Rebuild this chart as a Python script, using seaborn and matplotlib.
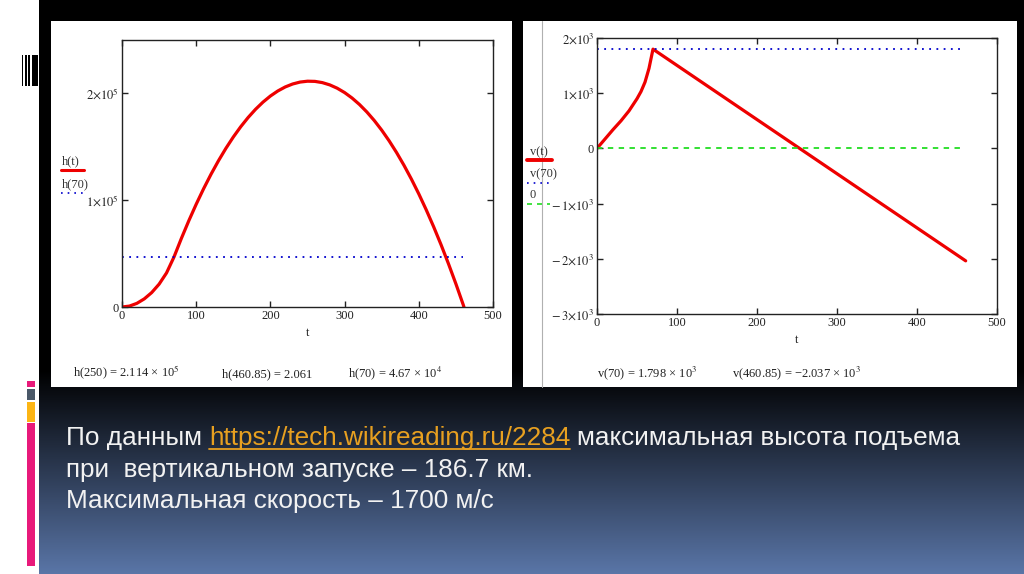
import matplotlib
matplotlib.use("Agg")
import matplotlib.pyplot as plt
import seaborn as sns
import numpy as np
from matplotlib.patches import Rectangle
from matplotlib.ticker import FixedLocator, FixedFormatter


sns.set_style("ticks")
plt.rcParams['font.family'] = ['Liberation Serif', 'DejaVu Sans']
plt.rcParams['mathtext.fontset'] = 'stix'

# --- data --------------------------------------------------------------------
t_h = [0, 10, 20, 30, 40, 50, 60, 70, 80, 90, 100, 110, 120, 130, 140, 150,
       160, 170, 180, 190, 200, 210, 220, 230, 240, 250, 260, 270, 280, 290,
       300, 310, 320, 330, 340, 350, 360, 370, 380, 390, 400, 410, 420, 430,
       440, 450, 460, 460.85]
h_vals = [0, 850, 3400, 7600, 13500, 21400, 31900, 46700, 64190, 80700,
          96230, 110770, 124340, 136920, 148530, 159150, 168790, 177450,
          185130, 191830, 197550, 202280, 206040, 208810, 210610, 211420,
          211250, 210100, 207970, 204860, 200770, 195690, 189640, 182600,
          174590, 165590, 155610, 144650, 132710, 119790, 105890, 91000,
          75140, 58290, 40470, 21660, 1850, 2]

t_v = [0, 10, 20, 30, 40, 50, 55, 60, 65, 70, 460.85]
v_vals = [0, 170, 340, 500, 680, 900, 1030, 1200, 1450, 1798, -2037]

ref_t = [0, 460]
h70 = 46700
v70 = 1798

h_ticks = [0, 100000, 200000]
h_tick_labels = ['0', r'$1{\times}10^{5}$', r'$2{\times}10^{5}$']
v_ticks = [-3000, -2000, -1000, 0, 1000, 2000]
v_tick_labels = [r'$-\,3{\times}10^{3}$', r'$-\,2{\times}10^{3}$',
                 r'$-\,1{\times}10^{3}$', '0',
                 r'$1{\times}10^{3}$', r'$2{\times}10^{3}$']
t_ticks = [0, 100, 200, 300, 400, 500]

W, H = 1024, 574
fig = plt.figure(figsize=(W / 100, H / 100), dpi=100)
fig.patch.set_facecolor('black')

# --- slide background (pixel coordinates) -----------------------------------
bg = fig.add_axes([0, 0, 1, 1])
bg.set_xlim(0, W)
bg.set_ylim(H, 0)
bg.axis('off')
rows = np.zeros((H, 1, 3))
top_c = np.array([0.0, 0.0, 0.0])
bot_c = np.array([90, 118, 168]) / 255
for r in range(H):
    f = min(max((r - 370) / (H - 370), 0), 1)
    rows[r, 0] = top_c + (bot_c - top_c) * f
bg.imshow(rows, extent=[0, W, H, 0], aspect='auto', zorder=0)

bg.add_patch(Rectangle((0, 0), 39, H, fc='white', lw=0, zorder=1))
for x0, x1 in [(22.3, 23.3), (25, 26.6), (28, 29.8), (31.8, 37.8)]:
    bg.add_patch(Rectangle((x0, 55), x1 - x0, 31, fc='black', lw=0, zorder=2))
bg.add_patch(Rectangle((27, 381), 8, 6, fc='#e8197a', lw=0, zorder=2))
bg.add_patch(Rectangle((27, 389), 8, 11, fc='#4a5868', lw=0, zorder=2))
bg.add_patch(Rectangle((27, 402), 8, 20, fc='#fcb514', lw=0, zorder=2))
bg.add_patch(Rectangle((27, 423), 8, 143, fc='#e8197a', lw=0, zorder=2))

# white chart panels
bg.add_patch(Rectangle((51, 21), 461, 366, fc='white', lw=0, zorder=1))
bg.add_patch(Rectangle((523, 21), 494, 366, fc='white', lw=0, zorder=1))
bg.plot([542, 542], [21, 387], color='#b0b0b0', lw=0.8, zorder=2)

tick_fs = 9


def style_axes(ax):
    ax.set_facecolor('white')
    for s in ax.spines.values():
        s.set_color('#222222')
        s.set_linewidth(1.0)
        s.set_visible(True)
    ax.tick_params(direction='in', length=4, width=1, color='#222222',
                   top=True, right=True, labelsize=tick_fs, pad=2,
                   labelcolor='#222222')
    ax.set_xlim(0, 500)
    ax.xaxis.set_major_locator(FixedLocator(t_ticks))
    ax.set_xticklabels([str(v) for v in t_ticks])
    ax.set_xlabel('t', fontsize=tick_fs, labelpad=4, color='#222222')
    ax.set_ylabel('')
    ax.grid(False)


# --- left: height --------------------------------------------------------------
ax1 = fig.add_axes([122 / W, 1 - 307 / H, 371 / W, 267 / H])
sns.lineplot(x=t_h, y=h_vals, ax=ax1, color='#ee0000', lw=2.3)
sns.lineplot(x=ref_t, y=[h70, h70], ax=ax1, color='#0000cc', lw=1.3,
             linestyle=(0, (1, 3)))
style_axes(ax1)
ax1.set_ylim(0, 250000)
ax1.yaxis.set_major_locator(FixedLocator(h_ticks))
ax1.yaxis.set_major_formatter(FixedFormatter(h_tick_labels))

# --- right: velocity -------------------------------------------------------------
ax2 = fig.add_axes([597 / W, 1 - 314 / H, 400 / W, 276 / H])
sns.lineplot(x=t_v, y=v_vals, ax=ax2, color='#ee0000', lw=2.3)
sns.lineplot(x=ref_t, y=[v70, v70], ax=ax2, color='#0000cc', lw=1.3,
             linestyle=(0, (1, 3)))
sns.lineplot(x=ref_t, y=[0, 0], ax=ax2, color='#22dd22', lw=1.3,
             linestyle=(0, (3, 3)))
style_axes(ax2)
ax2.set_ylim(-3000, 2000)
ax2.yaxis.set_major_locator(FixedLocator(v_ticks))
ax2.yaxis.set_major_formatter(FixedFormatter(v_tick_labels))

# --- Mathcad style legends and evaluated values ----------------------------------
lfs = 9
bg.text(62, 164, 'h(t)', fontsize=lfs, color='#333333', zorder=3)
bg.plot([61, 84], [170, 170], color='#ee0000', lw=2.2, zorder=3)
bg.text(62, 187, 'h(70)', fontsize=lfs, color='#333333', zorder=3)
bg.plot([61, 83], [193, 193], color='#0000cc', lw=1.2, ls=(0, (1, 3)), zorder=3)

bg.text(530, 155, 'v(t)', fontsize=lfs, color='#333333', zorder=3)
bg.plot([527, 552], [160, 160], color='#ee0000', lw=2.8, zorder=3)
bg.text(530, 177, 'v(70)', fontsize=lfs, color='#333333', zorder=3)
bg.plot([527, 550], [183, 183], color='#0000cc', lw=1.2, ls=(0, (1, 3)), zorder=3)
bg.text(530, 198, '0', fontsize=lfs, color='#333333', zorder=3)
bg.plot([527, 550], [204, 204], color='#22dd22', lw=1.2, ls=(0, (3, 3)), zorder=3)

afs = 9
bg.text(73, 377, r'h(250) = 2.114 × 10$^{5}$', fontsize=afs, color='#222222', zorder=3)
bg.text(222, 377, 'h(460.85) = 2.061', fontsize=afs, color='#222222', zorder=3)
bg.text(348, 377, r'h(70) = 4.67 × 10$^{4}$', fontsize=afs, color='#222222', zorder=3)
bg.text(597, 377, r'v(70) = 1.798 × 10$^{3}$', fontsize=afs, color='#222222', zorder=3)
bg.text(732, 377, r'v(460.85) = −2.037 × 10$^{3}$', fontsize=afs, color='#222222', zorder=3)

# --- slide text --------------------------------------------------------------------
sfs = 18.8
txt_kw = dict(fontsize=sfs, family=['Liberation Sans', 'DejaVu Sans'], zorder=3,
              va='baseline')
white = '#f2f2f2'
link_c = '#e8a020'
renderer = fig.canvas.get_renderer()

t1 = bg.text(66, 445, 'По данным', color=white, **txt_kw)
x_link = t1.get_window_extent(renderer).x1 + 7
t2 = bg.text(x_link, 445, 'https://tech.wikireading.ru/2284', color=link_c, **txt_kw)
ext = t2.get_window_extent(renderer)
bg.plot([ext.x0, ext.x1], [449, 449], color=link_c, lw=1.3, zorder=3)
bg.text(ext.x1 + 7, 445, 'максимальная высота подъема', color=white, **txt_kw)
bg.text(66, 477, 'при  вертикальном запуске – 186.7 км.', color=white, **txt_kw)
bg.text(66, 508, 'Максимальная скорость – 1700 м/с', color=white, **txt_kw)

fig.savefig('out.png', dpi=100, facecolor=fig.get_facecolor())
plt.close(fig)
